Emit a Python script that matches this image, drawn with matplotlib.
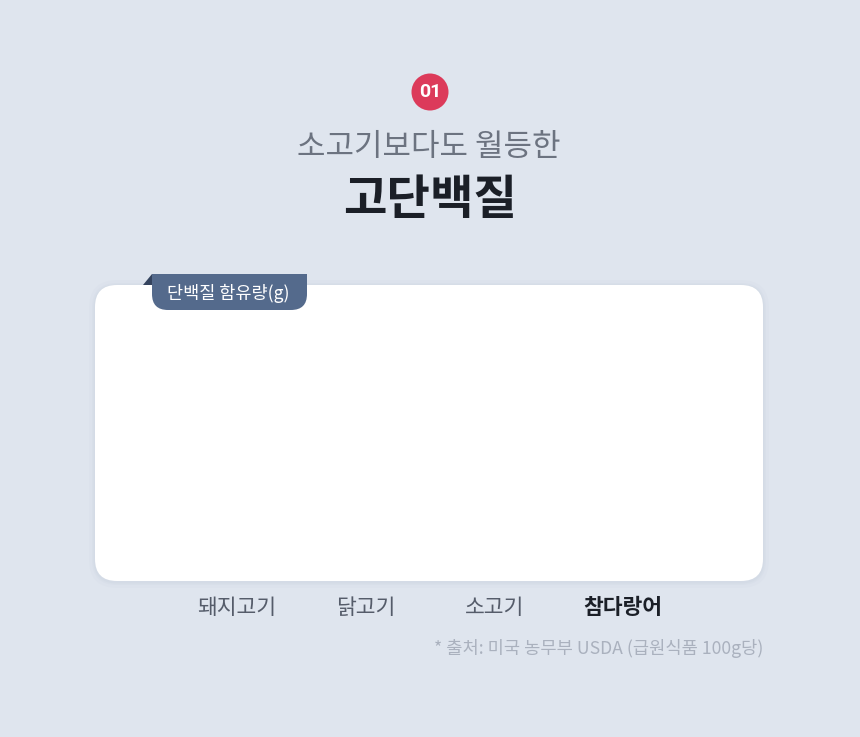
import matplotlib
matplotlib.use("Agg")
import matplotlib.pyplot as plt
from matplotlib.patches import FancyBboxPatch, Polygon, Circle

plt.rcParams['font.family'] = ['Noto Sans CJK KR', 'DejaVu Sans']

# data
categories = ["돼지고기", "닭고기", "소고기", "참다랑어"]
protein = [0, 0, 0, 0]   # no bars drawn in the reference
highlight = "참다랑어"

badge = "01"
subtitle = "소고기보다도 월등한"
title = "고단백질"
tag_label = "단백질 함유량(g)"
source = "* 출처: 미국 농무부 USDA (급원식품 100g당)"

BG = "#dfe5ee"
W, H = 860, 737

fig = plt.figure(figsize=(W / 100, H / 100), dpi=100)
fig.set_facecolor(BG)

# pixel-space overlay for decoration
deco = fig.add_axes([0, 0, 1, 1], zorder=0)
deco.set_xlim(0, W)
deco.set_ylim(H, 0)
deco.axis("off")

# panel shadow + panel
px0, py0, px1, py1 = 95, 285, 763, 581
for grow, a in [(6, 0.035), (3, 0.05), (1.5, 0.06)]:
    deco.add_patch(FancyBboxPatch((px0 - grow, py0 - grow + 1), px1 - px0 + 2 * grow, py1 - py0 + 2 * grow,
                                  boxstyle="round,pad=0,rounding_size=%f" % (22 + grow),
                                  fc="#9aa8c0", ec="none", alpha=a))
deco.add_patch(FancyBboxPatch((px0, py0), px1 - px0, py1 - py0,
                              boxstyle="round,pad=0,rounding_size=22", fc="white", ec="none"))

# tag with folded corner
deco.add_patch(Polygon([[143, 285], [152, 274], [152, 285]], closed=True, fc="#34435e", ec="none"))
deco.add_patch(FancyBboxPatch((152, 250), 155, 60, boxstyle="round,pad=0,rounding_size=16",
                              fc="#546a8c", ec="none"))
deco.add_patch(plt.Rectangle((152, 250), 155, 24, fc=BG, ec="none"))
deco.text(228, 293.5, tag_label, color="white", fontsize=12.6, ha="center", va="center")

# header
deco.add_patch(Circle((430, 92), 18.5, fc="#dc3a5a", ec="none"))
deco.text(430, 92, badge, color="white", fontsize=14, fontweight="bold", ha="center", va="center",
          family=["Roboto", "DejaVu Sans"])
deco.text(429, 147, subtitle, color="#6c7380", fontsize=22.3, fontweight="light", ha="center", va="center")
deco.text(430, 200, title, color="#1b1f27", fontsize=34, fontweight="bold", ha="center", va="center")

deco.text(763, 648, source, color="#aab1be", fontsize=12.7, ha="right", va="center")

# chart axes sitting on the panel
ax = fig.add_axes([px0 / W, 1 - py1 / H, (px1 - px0) / W, (py1 - py0) / H], zorder=1)
ax.set_facecolor("none")
x = list(range(len(categories)))
ax.bar(x, protein, width=0.5, color="#546a8c")
ax.set_xlim(-1.104, 4.088)
ax.set_ylim(0, 30)
ax.set_yticks([])
ax.set_xticks(x, categories)
ax.tick_params(axis="x", length=0, pad=11.5, labelsize=15.5)
for lbl in ax.get_xticklabels():
    if lbl.get_text() == highlight:
        lbl.set_color("#1b1f27")
        lbl.set_fontweight("bold")
    else:
        lbl.set_color("#555c6a")
for s in ax.spines.values():
    s.set_visible(False)

fig.savefig("out.png", dpi=100, facecolor=BG)
